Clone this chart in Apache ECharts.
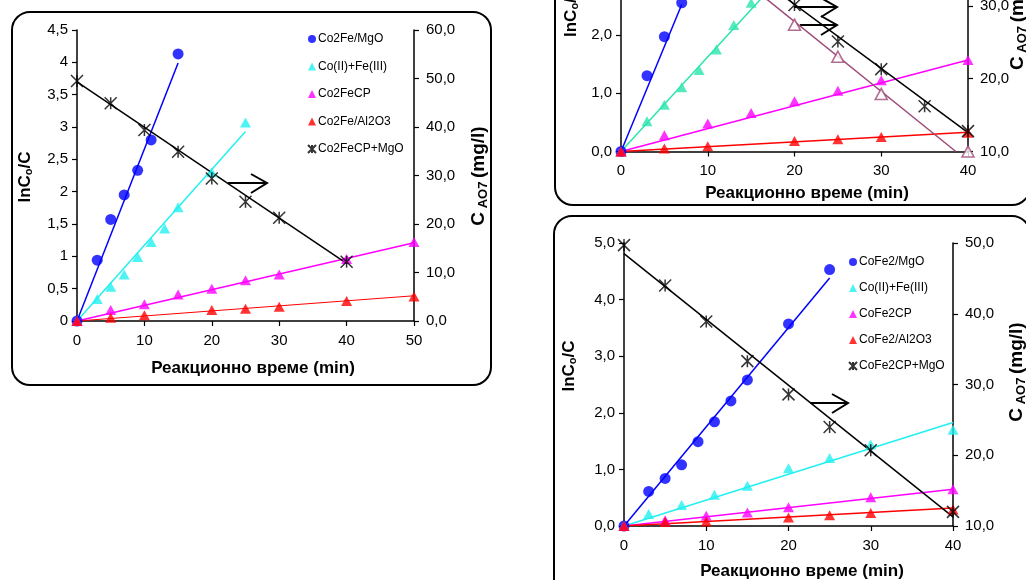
<!DOCTYPE html>
<html>
<head>
<meta charset="utf-8">
<script src="https://cdn.jsdelivr.net/npm/echarts@6/dist/echarts.min.js"></script>
<style>
  html, body { margin: 0; padding: 0; background: #fff; }
  #chart { width: 1026px; height: 580px; }
</style>
</head>
<body>
<div id="chart"></div>
<script>
const FONT = '"Liberation Sans", Arial, sans-serif'

// ---- Panel A (left, Co2Fe) ----
const aTimeMgo = [0, 3, 5, 7, 9, 11, 15]
const aMgo = [0, 0.94, 1.57, 1.95, 2.33, 2.80, 4.13]
const aFitMgo = [[0, 0], [15, 3.99]]
const aTimeIon = [0, 3, 5, 7, 9, 11, 13, 15, 20, 25]
const aIon = [0, 0.34, 0.53, 0.72, 0.99, 1.22, 1.43, 1.76, 2.30, 3.07]
const aFitIon = [[0, 0], [25, 2.93]]
const aTimeCp = [0, 5, 10, 15, 20, 25, 30, 40, 50]
const aCp = [0, 0.17, 0.26, 0.41, 0.50, 0.63, 0.72, 0.96, 1.22]
const aFitCp = [[0, 0], [50, 1.21]]
const aTimeAl = [0, 5, 10, 20, 25, 30, 40, 50]
const aAl = [0, 0.05, 0.09, 0.17, 0.19, 0.22, 0.31, 0.38]
const aFitAl = [[0, 0], [50, 0.39]]
const aTimeConc = [0, 5, 10, 15, 20, 25, 30, 40]
const aConc = [49.5, 44.9, 39.4, 34.9, 29.4, 24.6, 21.3, 12.2]
const aFitConc = [[0, 49.3], [40, 11.9]]
const aNames = ['Co2Fe/MgO', 'Co(II)+Fe(III)', 'Co2FeCP', 'Co2Fe/Al2O3', 'Co2FeCP+MgO']

// ---- Panel B (top right, cropped) ----
const bTimeMgo = [0, 3, 5, 7]
const bMgo = [0, 1.30, 1.97, 2.55]
const bFitMgo = [[0, 0], [7, 2.52]]
const bTimeIon = [0, 3, 5, 7, 9, 11, 13, 15]
const bIon = [0, 0.52, 0.80, 1.10, 1.40, 1.75, 2.17, 2.55]
const bFitIon = [[0, 0], [17, 2.76]]
const bTimeCp = [0, 5, 10, 15, 20, 25, 30, 40]
const bCp = [0, 0.28, 0.48, 0.66, 0.86, 1.04, 1.22, 1.57]
const bFitCp = [[0, 0], [40, 1.57]]
const bTimeAl = [0, 5, 10, 20, 25, 30, 40]
const bAl = [0, 0.05, 0.09, 0.18, 0.21, 0.25, 0.32]
const bFitAl = [[0, 0], [40, 0.33]]
const bTimeConc = [20, 25, 30, 35, 40]
const bConc = [30.1, 25.1, 21.3, 16.2, 12.8]
const bFitConc = [[0, 47.8], [40, 12.6]]
const bTimeConc2 = [20, 25, 30, 40]
const bConc2 = [27.4, 23.0, 17.9, 10.0]
const bFitConc2 = [[0, 47.0], [38.6, 10.0]]

// ---- Panel C (bottom right, CoFe2) ----
const cTimeMgo = [0, 3, 5, 7, 9, 11, 13, 15, 20, 25]
const cMgo = [0, 0.61, 0.84, 1.08, 1.49, 1.84, 2.21, 2.58, 3.57, 4.53]
const cFitMgo = [[0, 0], [25, 4.38]]
const cTimeIon = [0, 3, 7, 11, 15, 20, 25, 30, 40]
const cIon = [0, 0.21, 0.37, 0.55, 0.71, 1.02, 1.20, 1.44, 1.70]
const cFitIon = [[0, 0], [40, 1.83]]
const cTimeCp = [0, 5, 10, 15, 20, 30, 40]
const cCp = [0, 0.10, 0.18, 0.24, 0.33, 0.51, 0.65]
const cFitCp = [[0, 0], [40, 0.65]]
const cTimeAl = [0, 5, 10, 20, 25, 30, 40]
const cAl = [0, 0.07, 0.08, 0.15, 0.19, 0.23, 0.29]
const cFitAl = [[0, 0], [40, 0.32]]
const cTimeConc = [0, 5, 10, 15, 20, 25, 30, 40]
const cConc = [49.7, 44.0, 38.9, 33.3, 28.6, 24.0, 20.7, 12.0]
const cFitConc = [[0, 48.5], [40, 11.3]]
const cNames = ['CoFe2/MgO', 'Co(II)+Fe(III)', 'CoFe2CP', 'CoFe2/Al2O3', 'CoFe2CP+MgO']

const BLUE = '#0000ff'
const CYAN = '#22f0f0'
const TEAL = '#2be5ae'
const MAGENTA = '#ff00ff'
const RED = '#ff0000'
const MAUVE = '#9e4a78'
const STAR = 'path://M0,0L12,12M12,0L0,12M6,0L6,12'

const zip = (t, v) => t.map((x, i) => [x, v[i]])

// markers
const pts = (name, t, v, color, symbol, g, y, extra) => Object.assign({
  name, type: 'scatter', xAxisIndex: g, yAxisIndex: y,
  symbol, symbolSize: symbol === 'circle' ? 11 : [11, 10],
  itemStyle: { color }, data: zip(t, v), z: 4, silent: true
}, extra || {})

// fitted lines
const fit = (data, color, width, g, y) => ({
  type: 'line', xAxisIndex: g, yAxisIndex: y, data,
  showSymbol: false, symbol: 'none', silent: true, z: 3,
  lineStyle: { color, width }
})

const starStyle = { symbol: STAR, symbolSize: 12, itemStyle: { color: 'transparent', borderColor: '#000', borderWidth: 1.5 } }
const hollowTri = { symbol: 'triangle', symbolSize: [12, 11], itemStyle: { color: '#fff', borderColor: MAUVE, borderWidth: 1.6 } }

const comma = v => String(v).replace('.', ',')
const oneDec = v => v.toFixed(1).replace('.', ',')

const axisCommon = {
  axisLine: { show: true, onZero: false, lineStyle: { color: '#000', width: 1.5 } },
  axisTick: { show: true, length: 5, lineStyle: { color: '#000', width: 1.2 } },
  splitLine: { show: false },
  axisLabel: { color: '#000', fontSize: 15, fontFamily: FONT }
}
const xAx = (g, max) => Object.assign({}, axisCommon, {
  type: 'value', gridIndex: g, min: 0, max, interval: 10,
  axisLabel: Object.assign({}, axisCommon.axisLabel, { margin: 12 })
})
const yAx = (g, pos, min, max, interval, fmt, margin) => Object.assign({}, axisCommon, {
  type: 'value', gridIndex: g, position: pos, min, max, interval,
  axisLabel: Object.assign({}, axisCommon.axisLabel, { formatter: fmt, margin })
})

const titleRich = {
  a: { fontSize: 17, fontWeight: 'bold', fontFamily: FONT, fill: '#000' },
  s: { fontSize: 11, fontWeight: 'bold', fontFamily: FONT, fill: '#000', padding: [7, 0, 0, 0] },
  A: { fontSize: 19, fontWeight: 'bold', fontFamily: FONT, fill: '#000' },
  S: { fontSize: 13, fontWeight: 'bold', fontFamily: FONT, fill: '#000', padding: [8, 0, 0, 0] }
}
const yTitleL = '{a|lnC}{s|o}{a|/C}'
const yTitleR = '{A|C}{S| AO7 }{A|(mg/l)}'
const xTitle = 'Реакционно време (min)'

const vText = (x, y, text, align) => ({
  type: 'text', x, y, rotation: Math.PI / 2, z: 10,
  style: { text, rich: titleRich, align: align || 'center', verticalAlign: 'middle' }
})
const hText = (x, y) => ({
  type: 'text', x, y, z: 10,
  style: { text: xTitle, fontSize: 17, fontWeight: 'bold', fontFamily: FONT, fill: '#000', align: 'center', verticalAlign: 'middle' }
})
const box = (x, y, w, h) => ({
  type: 'rect', shape: { x, y, width: w, height: h, r: 18 }, z: 0,
  style: { fill: 'none', stroke: '#000', lineWidth: 2 }
})
const arrow = (x1, x2, y) => ({
  type: 'group', z: 10, children: [
    { type: 'polyline', shape: { points: [[x1, y], [x2, y]] }, style: { stroke: '#000', lineWidth: 2, fill: null } },
    { type: 'polyline', shape: { points: [[x2 - 16, y - 9], [x2, y], [x2 - 16, y + 10]] }, style: { stroke: '#000', lineWidth: 2, fill: null } }
  ]
})

const legendCommon = {
  orient: 'vertical', itemWidth: 8, itemHeight: 8, selectedMode: false, padding: 0,
  textStyle: { fontSize: 12, fontFamily: FONT, color: '#000', lineHeight: 14, padding: [0, 0, 0, -3] }
}
const legendData = names => names.map((n, i) => ({ name: n, icon: i === 0 ? 'circle' : i === 4 ? STAR : 'triangle' }))

const chart = echarts.init(document.getElementById('chart'), null, { renderer: 'canvas' })
chart.setOption({
  backgroundColor: '#fff',
  animation: false,
  grid: [
    { left: 77, top: 30, width: 337, height: 291, containLabel: false, outerBoundsMode: 'none' },
    { left: 621, top: -140, width: 347, height: 291.5, containLabel: false, outerBoundsMode: 'none' },
    { left: 624, top: 243, width: 329, height: 283, containLabel: false, outerBoundsMode: 'none' }
  ],
  xAxis: [xAx(0, 50), xAx(1, 40), xAx(2, 40)],
  yAxis: [
    yAx(0, 'left', 0, 4.5, 0.5, comma, 9),
    yAx(0, 'right', 0, 60, 10, oneDec, 12),
    yAx(1, 'left', 0, 5, 1, oneDec, 9),
    yAx(1, 'right', 10, 50, 10, oneDec, 12),
    yAx(2, 'left', 0, 5, 1, oneDec, 9),
    yAx(2, 'right', 10, 50, 10, oneDec, 12)
  ],
  legend: [
    Object.assign({ left: 307, top: 32, itemGap: 13.5, data: legendData(aNames) }, legendCommon),
    Object.assign({ left: 848, top: 255, itemGap: 12, data: legendData(cNames) }, legendCommon)
  ],
  graphic: [
    box(12, 12, 479, 373),
    box(555, -40, 475, 245),
    box(554, 216, 476, 400),
    vText(25, 177, yTitleL),
    vText(479, 176, yTitleR),
    hText(253, 368),
    vText(571, 37, yTitleL, 'left'),
    vText(1018, 70, yTitleR, 'left'),
    hText(807, 193),
    vText(569, 366, yTitleL),
    vText(1017, 372, yTitleR),
    hText(802, 571),
    arrow(228, 267, 183),
    arrow(794, 837, 7),
    arrow(800, 837, 25),
    arrow(810, 848, 403)
  ],
  series: [
    // panel A
    fit(aFitMgo, BLUE, 1.5, 0, 0),
    fit(aFitIon, CYAN, 1.5, 0, 0),
    fit(aFitCp, MAGENTA, 1.5, 0, 0),
    fit(aFitAl, RED, 1, 0, 0),
    fit(aFitConc, '#000', 1.5, 0, 1),
    pts(aNames[0], aTimeMgo, aMgo, BLUE, 'circle', 0, 0),
    pts(aNames[1], aTimeIon, aIon, CYAN, 'triangle', 0, 0),
    pts(aNames[2], aTimeCp, aCp, MAGENTA, 'triangle', 0, 0),
    pts(aNames[3], aTimeAl, aAl, RED, 'triangle', 0, 0),
    pts(aNames[4], aTimeConc, aConc, '#000', STAR, 0, 1, starStyle),
    // panel B
    fit(bFitMgo, BLUE, 1.5, 1, 2),
    fit(bFitIon, TEAL, 1.5, 1, 2),
    fit(bFitCp, MAGENTA, 1.5, 1, 2),
    fit(bFitAl, RED, 1.5, 1, 2),
    fit(bFitConc, '#000', 1.5, 1, 3),
    fit(bFitConc2, MAUVE, 1.5, 1, 3),
    pts('b-mgo', bTimeMgo, bMgo, BLUE, 'circle', 1, 2),
    pts('b-ion', bTimeIon, bIon, TEAL, 'triangle', 1, 2),
    pts('b-cp', bTimeCp, bCp, MAGENTA, 'triangle', 1, 2),
    pts('b-al', bTimeAl, bAl, RED, 'triangle', 1, 2),
    pts('b-conc', bTimeConc, bConc, '#000', STAR, 1, 3, starStyle),
    pts('b-conc2', bTimeConc2, bConc2, MAUVE, 'triangle', 1, 3, hollowTri),
    // panel C
    fit(cFitMgo, BLUE, 1.5, 2, 4),
    fit(cFitIon, CYAN, 1.5, 2, 4),
    fit(cFitCp, MAGENTA, 1.5, 2, 4),
    fit(cFitAl, RED, 1.5, 2, 4),
    fit(cFitConc, '#000', 1.5, 2, 5),
    pts(cNames[0], cTimeMgo, cMgo, BLUE, 'circle', 2, 4),
    pts('c-ion', cTimeIon, cIon, CYAN, 'triangle', 2, 4),
    pts(cNames[2], cTimeCp, cCp, MAGENTA, 'triangle', 2, 4),
    pts(cNames[3], cTimeAl, cAl, RED, 'triangle', 2, 4),
    pts(cNames[4], cTimeConc, cConc, '#000', STAR, 2, 5, starStyle)
  ]
})
</script>
</body>
</html>
